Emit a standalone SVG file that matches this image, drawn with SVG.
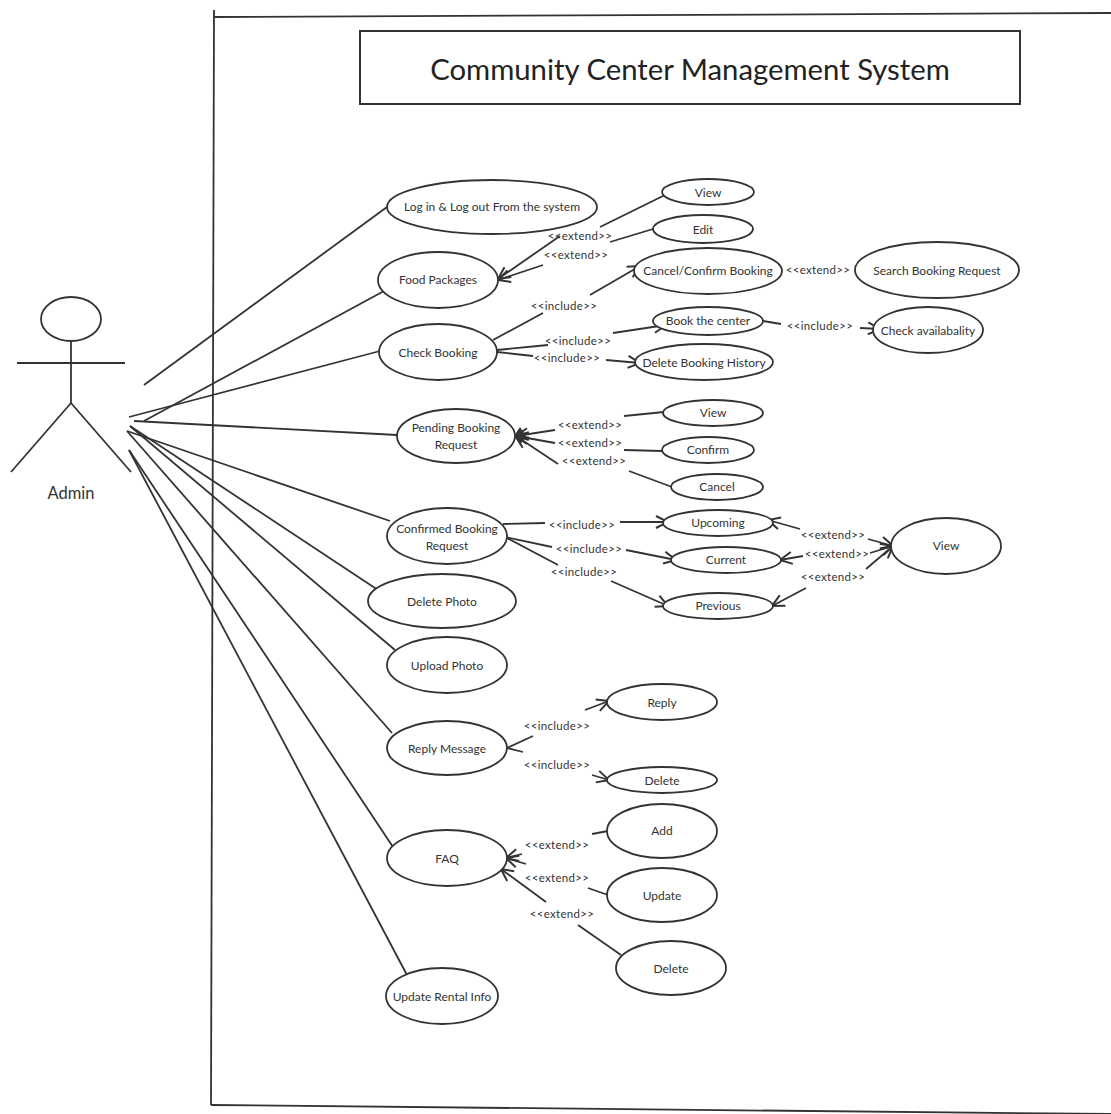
<svg xmlns="http://www.w3.org/2000/svg" width="1111" height="1114" viewBox="0 0 1111 1114">
<style>
text{font-family:Lato,"Noto Sans","Liberation Sans",sans-serif;fill:#333;text-anchor:middle}
.n ellipse{fill:#fff;stroke:#333;stroke-width:1.8}
.n text{font-size:12px}
.l{font-size:11.5px;letter-spacing:.3px}
.c line,.f line,.a line{stroke:#333;stroke-width:1.8;fill:none}
.h{marker-end:url(#o)}
</style>
<defs><marker id="o" viewBox="0 0 14 14" refX="13" refY="7" markerWidth="14" markerHeight="14" markerUnits="userSpaceOnUse" orient="auto"><path d="M1 1L13 7L1 13" fill="none" stroke="#333" stroke-width="2"/></marker></defs>
<rect width="1111" height="1114" fill="#fff"/>
<g id="frame" class="f"><line x1="214" y1="10" x2="211" y2="1105"/><line x1="214" y1="17" x2="1111" y2="13"/><line x1="211" y1="1105" x2="1111" y2="1114"/></g>
<g id="title"><rect x="360" y="31" width="660" height="73" fill="#fff" stroke="#333" stroke-width="2"/><text x="690" y="80" font-size="29.3" style="fill:#222">Community Center Management System</text></g>
<g id="actor" class="a"><ellipse cx="71" cy="319" rx="30" ry="22" fill="#fff" stroke="#333" stroke-width="1.8"/><line x1="71" y1="342" x2="71" y2="403"/><line x1="17" y1="363" x2="125" y2="363"/><line x1="71" y1="403" x2="11" y2="472"/><line x1="71" y1="403" x2="131" y2="472"/><text x="71" y="499" font-size="16.5">Admin</text></g>
<g id="connectors" class="c">
<line x1="144" y1="385" x2="387" y2="207"/><line x1="144" y1="421" x2="384" y2="291"/><line x1="129" y1="417" x2="380" y2="351"/><line x1="134" y1="421" x2="397" y2="435"/><line x1="127" y1="431" x2="390" y2="521"/><line x1="130" y1="426" x2="378" y2="590"/><line x1="130" y1="426" x2="395" y2="650"/><line x1="127" y1="431" x2="392" y2="733"/><line x1="129" y1="450" x2="393" y2="847"/><line x1="129" y1="450" x2="407" y2="975"/>
<line x1="665" y1="195" x2="600" y2="227"/><line x1="653" y1="229" x2="610" y2="242"/><line class="h" x1="560" y1="236" x2="498" y2="279"/><line class="h" x1="543" y1="265" x2="498" y2="280"/>
<line x1="493" y1="340" x2="543" y2="313"/><line class="h" x1="590" y1="295" x2="640" y2="266"/><line x1="497" y1="350" x2="548" y2="345"/><line class="h" x1="613" y1="333" x2="666" y2="325"/><line x1="497" y1="352" x2="533" y2="356"/><line class="h" x1="606" y1="360" x2="640" y2="363"/><line x1="763" y1="321" x2="781" y2="324"/><line class="h" x1="860" y1="328" x2="880" y2="329"/>
<line class="h" x1="555" y1="430" x2="516" y2="436"/><line class="h" x1="555" y1="443" x2="516" y2="436"/><line class="h" x1="558" y1="464" x2="516" y2="436"/><line x1="624" y1="416" x2="664" y2="412"/><line x1="624" y1="450" x2="662" y2="451"/><line x1="629" y1="471" x2="672" y2="487"/>
<line x1="503" y1="524" x2="545" y2="523"/><line class="h" x1="620" y1="522" x2="668" y2="522"/><line x1="505" y1="537" x2="552" y2="547"/><line class="h" x1="626" y1="550" x2="676" y2="560"/><line x1="505" y1="537" x2="558" y2="565"/><line class="h" x1="611" y1="581" x2="668" y2="606"/>
<line class="h" x1="800" y1="529" x2="768" y2="520"/><line class="h" x1="803" y1="556" x2="780" y2="560"/><line class="h" x1="806" y1="588" x2="772" y2="606"/><line class="h" x1="868" y1="539" x2="893" y2="546"/><line class="h" x1="870" y1="553" x2="893" y2="546"/><line class="h" x1="866" y1="569" x2="893" y2="546"/>
<line class="h" x1="585" y1="710" x2="609" y2="701"/><line x1="533" y1="736" x2="507" y2="748"/><line x1="523" y1="752" x2="507" y2="748"/><line class="h" x1="592" y1="775" x2="609" y2="780"/>
<line x1="592" y1="834" x2="608" y2="831"/><line class="h" x1="522" y1="854" x2="506" y2="858"/><line class="h" x1="526" y1="864" x2="506" y2="858"/><line x1="588" y1="888" x2="608" y2="895"/><line class="h" x1="546" y1="902" x2="501" y2="869"/><line x1="578" y1="925" x2="621" y2="955"/>
<polygon points="514,436 520,427 526,436 520,445" fill="#333"/>
</g>
<g id="labels">
<text class="l" x="580" y="240">&lt;&lt;extend&gt;&gt;</text><text class="l" x="576" y="259">&lt;&lt;extend&gt;&gt;</text><text class="l" x="564" y="310">&lt;&lt;include&gt;&gt;</text><text class="l" x="818" y="274">&lt;&lt;extend&gt;&gt;</text><text class="l" x="578" y="345">&lt;&lt;include&gt;&gt;</text><text class="l" x="567" y="362">&lt;&lt;include&gt;&gt;</text><text class="l" x="820" y="330">&lt;&lt;include&gt;&gt;</text>
<text class="l" x="590" y="429">&lt;&lt;extend&gt;&gt;</text><text class="l" x="590" y="447">&lt;&lt;extend&gt;&gt;</text><text class="l" x="594" y="465">&lt;&lt;extend&gt;&gt;</text>
<text class="l" x="582" y="529">&lt;&lt;include&gt;&gt;</text><text class="l" x="589" y="553">&lt;&lt;include&gt;&gt;</text><text class="l" x="584" y="576">&lt;&lt;include&gt;&gt;</text><text class="l" x="833" y="539">&lt;&lt;extend&gt;&gt;</text><text class="l" x="837" y="558">&lt;&lt;extend&gt;&gt;</text><text class="l" x="833" y="581">&lt;&lt;extend&gt;&gt;</text>
<text class="l" x="557" y="730">&lt;&lt;include&gt;&gt;</text><text class="l" x="557" y="769">&lt;&lt;include&gt;&gt;</text><text class="l" x="557" y="849">&lt;&lt;extend&gt;&gt;</text><text class="l" x="557" y="882">&lt;&lt;extend&gt;&gt;</text><text class="l" x="562" y="918">&lt;&lt;extend&gt;&gt;</text>
</g>
<g id="n1" class="n"><ellipse cx="492" cy="207" rx="105" ry="27"/><text x="492" y="211">Log in &amp; Log out From the system</text></g>
<g id="n2" class="n"><ellipse cx="438" cy="280" rx="60" ry="28"/><text x="438" y="284">Food Packages</text></g>
<g id="n3" class="n"><ellipse cx="438" cy="352" rx="59" ry="28"/><text x="438" y="357">Check Booking</text></g>
<g id="n4" class="n"><ellipse cx="708" cy="192" rx="46" ry="13"/><text x="708" y="197">View</text></g>
<g id="n5" class="n"><ellipse cx="703" cy="229" rx="50" ry="14"/><text x="703" y="234">Edit</text></g>
<g id="n6" class="n"><ellipse cx="708" cy="271" rx="74" ry="23"/><text x="708" y="275">Cancel/Confirm Booking</text></g>
<g id="n7" class="n"><ellipse cx="937" cy="270" rx="82" ry="28"/><text x="937" y="275">Search Booking Request</text></g>
<g id="n8" class="n"><ellipse cx="708" cy="321" rx="55" ry="14"/><text x="708" y="325">Book the center</text></g>
<g id="n9" class="n"><ellipse cx="928" cy="330" rx="55" ry="23"/><text x="928" y="335">Check availabality</text></g>
<g id="n10" class="n"><ellipse cx="704" cy="362" rx="69" ry="18"/><text x="704" y="367">Delete Booking History</text></g>
<g id="n11" class="n"><ellipse cx="456" cy="436" rx="59" ry="27"/><text x="456" y="432">Pending Booking</text><text x="456" y="449">Request</text></g>
<g id="n12" class="n"><ellipse cx="713" cy="413" rx="50" ry="13"/><text x="713" y="417">View</text></g>
<g id="n13" class="n"><ellipse cx="708" cy="450" rx="46" ry="13"/><text x="708" y="454">Confirm</text></g>
<g id="n14" class="n"><ellipse cx="717" cy="487" rx="46" ry="13"/><text x="717" y="491">Cancel</text></g>
<g id="n15" class="n"><ellipse cx="447" cy="536" rx="60" ry="28"/><text x="447" y="533">Confirmed Booking</text><text x="447" y="550">Request</text></g>
<g id="n16" class="n"><ellipse cx="718" cy="523" rx="55" ry="13"/><text x="718" y="527">Upcoming</text></g>
<g id="n17" class="n"><ellipse cx="726" cy="560" rx="55" ry="13"/><text x="726" y="564">Current</text></g>
<g id="n18" class="n"><ellipse cx="718" cy="606" rx="55" ry="13"/><text x="718" y="610">Previous</text></g>
<g id="n19" class="n"><ellipse cx="946" cy="546" rx="55" ry="28"/><text x="946" y="550">View</text></g>
<g id="n20" class="n"><ellipse cx="442" cy="601" rx="74" ry="27"/><text x="442" y="606">Delete Photo</text></g>
<g id="n21" class="n"><ellipse cx="447" cy="665" rx="60" ry="28"/><text x="447" y="670">Upload Photo</text></g>
<g id="n22" class="n"><ellipse cx="447" cy="748" rx="60" ry="27"/><text x="447" y="753">Reply Message</text></g>
<g id="n23" class="n"><ellipse cx="447" cy="858" rx="60" ry="28"/><text x="447" y="863">FAQ</text></g>
<g id="n24" class="n"><ellipse cx="442" cy="996" rx="56" ry="28"/><text x="442" y="1001">Update Rental Info</text></g>
<g id="n25" class="n"><ellipse cx="662" cy="702" rx="55" ry="18"/><text x="662" y="707">Reply</text></g>
<g id="n26" class="n"><ellipse cx="662" cy="780" rx="55" ry="13"/><text x="662" y="785">Delete</text></g>
<g id="n27" class="n"><ellipse cx="662" cy="831" rx="55" ry="27"/><text x="662" y="835">Add</text></g>
<g id="n28" class="n"><ellipse cx="662" cy="895" rx="55" ry="27"/><text x="662" y="900">Update</text></g>
<g id="n29" class="n"><ellipse cx="671" cy="968" rx="55" ry="27"/><text x="671" y="973">Delete</text></g>
</svg>
